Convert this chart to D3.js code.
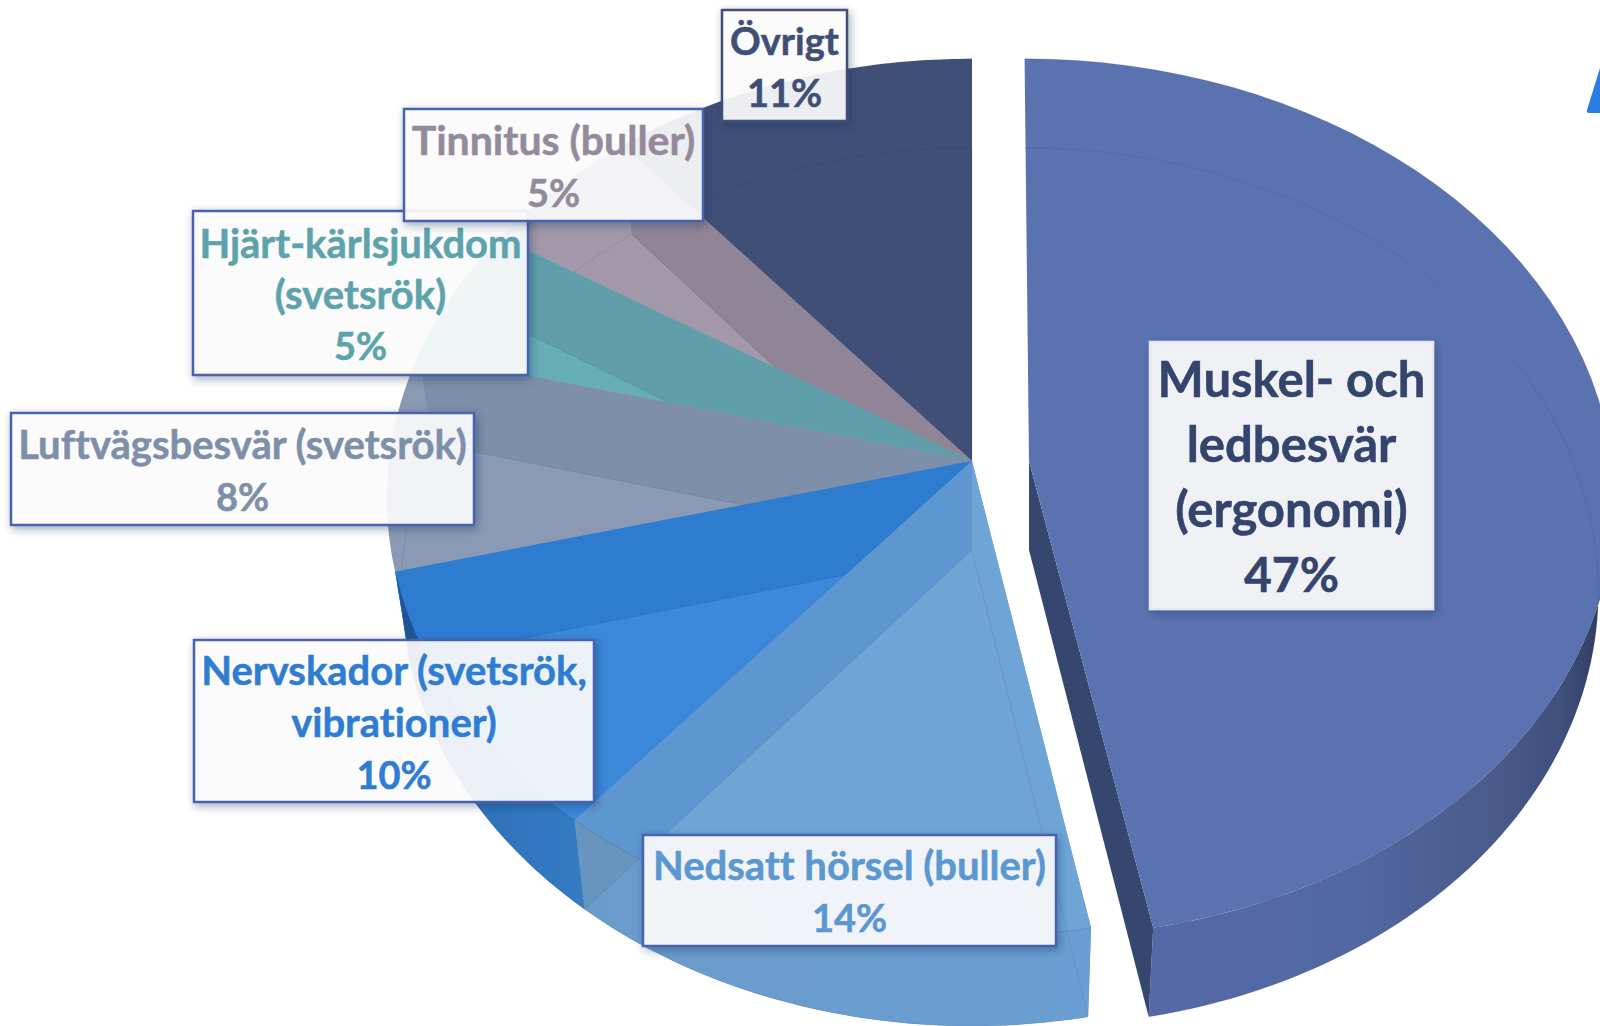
<!DOCTYPE html>
<html lang="sv">
<head>
    <meta charset="UTF-8">
    <script src="https://cdnjs.cloudflare.com/ajax/libs/d3/7.8.5/d3.min.js"></script>
    <style>
        html, body { margin: 0; padding: 0; background: #fff; }
        svg { display: block; }
        text { font-family: Lato, "Open Sans", sans-serif; font-weight: 700; text-anchor: middle; font-variant-ligatures: none; }
    </style>
</head>
<body>
<svg id="chart" width="1600" height="1026"></svg>
<script>
    // values, clockwise from 12 o'clock
    const categories = ['Muskel- och ledbesvär (ergonomi)', 'Nedsatt hörsel (buller)', 'Nervskador (svetsrök, vibrationer)',
        'Luftvägsbesvär (svetsrök)', 'Hjärt-kärlsjukdom (svetsrök)', 'Tinnitus (buller)', 'Övrigt'];
    const shares = [47, 14, 10, 8, 5, 5, 11];
    const labelLines = [
        ['Muskel- och', 'ledbesvär', '(ergonomi)'],
        ['Nedsatt hörsel (buller)'],
        ['Nervskador (svetsrök,', 'vibrationer)'],
        ['Luftvägsbesvär (svetsrök)'],
        ['Hjärt-kärlsjukdom', '(svetsrök)'],
        ['Tinnitus (buller)'],
        ['Övrigt']
    ];
    const topColors = ['#5b72b0', '#5e97cf', '#2e7cd0', '#7d8fa9', '#609fa9', '#908497', '#3f4f78'];
    const facetColors = ['#5b72b0', '#6ea5d6', '#3b88da', '#8a9ab4', '#66adb6', '#a398a9', '#3f4f78'];
    const cornerColors = ['#36476f', '#6795bd', '#1f5596', null, null, null, null];
    const textColors = ['#34446c', '#5b97d0', '#2e7dd3', '#7d8fa9', '#5da3ac', '#958a9c', '#3f4f78'];

    // label box layout: x0, y0, x1, y1, name size, percent size, line height
    const boxes = [
        [1150, 342, 1433, 609, 49, 48, 65],
        [643, 835, 1056, 946, 40, 38, 52],
        [194, 640, 594, 802, 40, 38, 52],
        [11, 413, 474, 525, 40, 38, 52],
        [193, 211, 528, 375, 40, 38, 51],
        [404, 109, 703, 221, 41, 38, 52],
        [722, 10, 847, 121, 38, 38, 52]
    ];

    const cx = 972, cy = 461;
    const depth = 89, bottomScale = 0.975, tilt = 0.084;
    const explode = 57;

    const xRadius = d3.scaleLinear().domain([-1, 1]).range([-583, 583]);
    const yRadius = d3.scaleLinear().domain([-1, 1]).range([-436, 436]);

    const svg = d3.select('#chart');
    const defs = svg.append('defs');

    const shadow = defs.append('filter').attr('id', 'shadow')
        .attr('x', '-10%').attr('y', '-10%').attr('width', '125%').attr('height', '130%');
    shadow.append('feDropShadow').attr('dx', 2).attr('dy', 3).attr('stdDeviation', 4)
        .attr('flood-color', '#1d2b55').attr('flood-opacity', 0.42);

    function gradient(id, x1, x2, stops) {
        const g = defs.append('linearGradient').attr('id', id)
            .attr('gradientUnits', 'userSpaceOnUse')
            .attr('x1', x1).attr('x2', x2).attr('y1', 0).attr('y2', 0);
        stops.forEach(s => g.append('stop').attr('offset', s[0]).attr('stop-color', s[1]));
    }
    gradient('side0', 1150, 1600, [[0, '#5469a6'], [0.45, '#5268a3'], [0.75, '#4a5b8c'], [0.92, '#3f4f7c'], [1, '#2f3d63']]);
    gradient('side1', 580, 1090, [[0, '#6a9ccb'], [1, '#6a9ed2']]);
    gradient('side2', 395, 600, [[0, '#2766ab'], [0.3, '#2d6fb8'], [1, '#357dc4']]);

    const pie = d3.pie().sort(null).value(d => d);
    const arcs = pie(shares);

    // perspective view of a point on the pie rim, plane 0 = top face, plane 1 = bottom face
    function rim(angle, plane, off) {
        const u = Math.sin(angle), w = -Math.cos(angle);
        const f = 1 / (1 - tilt * w);
        return [cx + (off + xRadius(u)) * f * (plane ? bottomScale : 1),
            cy + yRadius(w) * f + (plane ? depth : 0)];
    }
    function hub(plane, off) {
        return [cx + off, cy + (plane ? depth : 0)];
    }
    function rimPoints(a0, a1, plane, off) {
        return d3.range(0, 61).map(i => rim(a0 + (a1 - a0) * i / 60, plane, off));
    }

    const line = d3.line();
    const closed = pts => line(pts) + 'Z';

    // far slices first, so nearer ones sit on top of them
    const drawOrder = [6, 5, 4, 3, 2, 1, 0];

    drawOrder.forEach(i => {
        const a = arcs[i];
        const off = i === 0 ? explode : 0;
        const s = a.startAngle, e = a.endAngle;
        const g = svg.append('g').attr('class', 'slice');
        g.append('title').text(categories[i]);

        const topRim = rimPoints(s, e, 0, off);
        const bottomRim = rimPoints(s, e, 1, off);
        const topFace = [hub(0, off), ...topRim];
        const bottomFace = [hub(1, off), ...bottomRim];
        const side = [...topRim, ...bottomRim.slice().reverse()];
        const endWall = [hub(0, off), rim(e, 0, off), rim(e, 1, off), hub(1, off)];
        const startWall = [hub(0, off), rim(s, 0, off), rim(s, 1, off), hub(1, off)];

        if (i === 0) {
            // pulled-out slice: cut face and rim first, solid top over them
            const frontSide = [...rimPoints(Math.PI / 2, e, 0, off), ...rimPoints(Math.PI / 2, e, 1, off).reverse()];
            g.append('path').attr('d', closed(frontSide)).attr('fill', 'url(#side0)');
            g.append('path').attr('d', closed(endWall)).attr('fill', cornerColors[0]);
            g.append('path').attr('d', closed(topFace)).attr('fill', topColors[0]);
        } else {
            // translucent look: bottom face and walls show through the top
            g.append('path').attr('d', closed(topFace)).attr('fill', facetColors[i]);
            g.append('path').attr('d', closed(startWall)).attr('fill', facetColors[i]);
            g.append('path').attr('d', closed(bottomFace)).attr('fill', facetColors[i]);
            if (i < 3) {
                g.append('path').attr('d', closed(side)).attr('fill', `url(#side${i})`);
            }
            g.append('path').attr('d', closed(endWall)).attr('fill', topColors[i]);
            if (cornerColors[i]) {
                // where the end wall and the rim overlap it goes darker
                defs.append('clipPath').attr('id', `rimClip${i}`)
                    .append('path').attr('d', closed(side));
                g.append('path').attr('d', closed(endWall))
                    .attr('fill', cornerColors[i])
                    .attr('clip-path', `url(#rimClip${i})`);
            }
        }

        // faint outline of the bottom face
        g.append('path').attr('d', line(i === 0 ? bottomRim : bottomFace.concat([hub(1, off)])))
            .attr('fill', 'none').attr('stroke', '#1d2b55').attr('stroke-opacity', 0.1);
        g.append('path').attr('d', line(topRim))
            .attr('fill', 'none').attr('stroke', '#1d2b55').attr('stroke-opacity', i < 3 ? 0.15 : 0.05);
    });

    // corner of a letter cut off by the picture edge
    svg.append('path').attr('d', 'M1600,68L1600,113L1589,113Q1586,113 1587,110Z').attr('fill', '#2a7de1');

    // labels, topmost last
    boxes.forEach((b, i) => {
        const g = svg.append('g').attr('class', 'label');
        g.append('rect')
            .attr('x', b[0]).attr('y', b[1])
            .attr('width', b[2] - b[0]).attr('height', b[3] - b[1])
            .attr('fill', '#fff').attr('fill-opacity', 0.89)
            .attr('stroke', i === 0 ? '#e4e7f0' : (i === 6 ? '#3f4f78' : '#4a62ad'))
            .attr('stroke-width', 2.5)
            .attr('filter', 'url(#shadow)');
        const lines = labelLines[i].concat([shares[i] + '%']);
        const mid = (b[0] + b[2]) / 2;
        const top = (b[1] + b[3]) / 2 - (lines.length - 1) * b[6] / 2 + b[5] * 0.34 + 3;
        lines.forEach((t, n) => {
            g.append('text')
                .attr('x', mid).attr('y', top + n * b[6])
                .attr('font-size', n === lines.length - 1 ? b[5] : b[4])
                .attr('fill', textColors[i])
                .attr('stroke', textColors[i])
                .attr('stroke-width', 0.5)
                .text(t);
        });
    });
</script>
</body>
</html>
